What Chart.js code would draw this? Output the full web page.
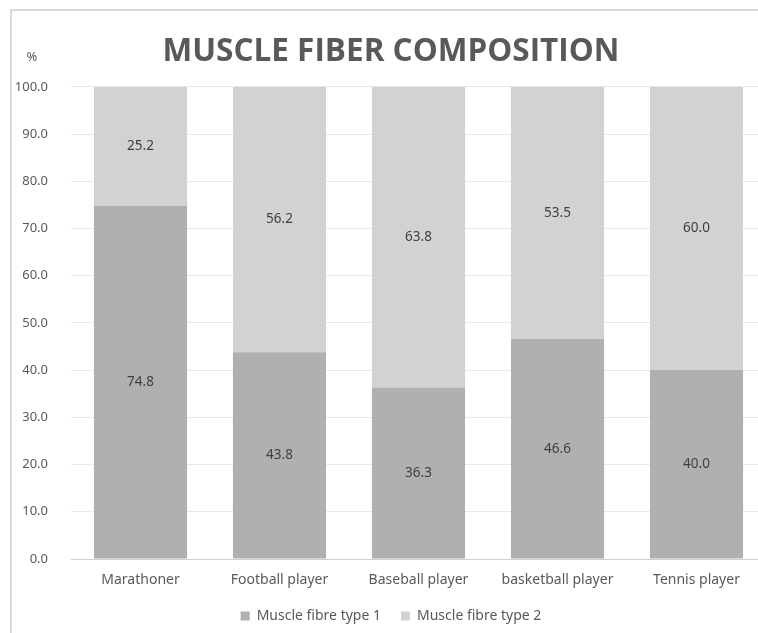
<!DOCTYPE html>
<html>
<head>
<meta charset="utf-8">
<script src="https://cdn.jsdelivr.net/npm/chart.js@4/dist/chart.umd.min.js"></script>
<style>
  html, body { margin: 0; padding: 0; background: #ffffff; overflow: hidden; width: 758px; height: 633px; }
  #chart { position: absolute; left: 0; top: 0; }
</style>
</head>
<body>
<canvas id="chart" width="782" height="633"></canvas>
<script>
const categories = ['Marathoner', 'Football player', 'Baseball player', 'basketball player', 'Tennis player'];
const seriesNames = ['Muscle fibre type 1', 'Muscle fibre type 2'];
const fibreType1 = [74.8, 43.8, 36.3, 46.6, 40.0];
const fibreType2 = [25.2, 56.2, 63.8, 53.5, 60.0];
const yTicks = [0, 10, 20, 30, 40, 50, 60, 70, 80, 90, 100];
const chartTitle = 'MUSCLE FIBER COMPOSITION';
const unitLabel = '%';

const FONT = "'Noto Sans', 'Open Sans', sans-serif";
const TEXT = '#595959';

// Light frame along the top and left edges of the chart
const chartFrame = {
  id: 'chartFrame',
  beforeDraw(chart) {
    const ctx = chart.ctx;
    ctx.save();
    ctx.strokeStyle = '#d9d9d9';
    ctx.lineWidth = 2;
    ctx.beginPath();
    ctx.moveTo(11, chart.height + 5);
    ctx.lineTo(11, 10);
    ctx.lineTo(chart.width + 5, 10);
    ctx.stroke();
    ctx.restore();
  }
};

// Values written in the middle of each stacked segment
const segmentLabels = {
  id: 'segmentLabels',
  afterDraw(chart) {
    const ctx = chart.ctx;
    ctx.save();
    ctx.font = `13.5px ${FONT}`;
    ctx.fillStyle = '#404040';
    ctx.textAlign = 'center';
    ctx.textBaseline = 'middle';
    chart.data.datasets.forEach((ds, di) => {
      const meta = chart.getDatasetMeta(di);
      meta.data.forEach((bar, i) => {
        const top = Math.max(bar.y, chart.chartArea.top);
        const y = (top + bar.base) / 2;
        ctx.fillText(ds.data[i].toFixed(1), bar.x, y);
      });
    });
    ctx.restore();
  }
};

// Unit caption above the value axis
const unitCaption = {
  id: 'unitCaption',
  afterDraw(chart) {
    const ctx = chart.ctx;
    ctx.save();
    ctx.font = `13px ${FONT}`;
    ctx.fillStyle = TEXT;
    ctx.textAlign = 'center';
    ctx.textBaseline = 'middle';
    ctx.fillText(unitLabel, 32, chart.chartArea.top - 30);
    ctx.restore();
  }
};

new Chart(document.getElementById('chart'), {
  type: 'bar',
  data: {
    labels: categories,
    datasets: [
      { label: seriesNames[0], data: fibreType1, backgroundColor: '#b0b0b0' },
      { label: seriesNames[1], data: fibreType2, backgroundColor: '#d2d2d2' }
    ]
  },
  options: {
    responsive: false,
    animation: false,
    devicePixelRatio: 1,
    categoryPercentage: 1,
    barPercentage: 0.67,
    layout: { padding: { left: 16, right: 16, top: 0, bottom: 0 } },
    plugins: {
      title: {
        display: true,
        text: chartTitle,
        color: TEXT,
        font: { family: "'Open Sans', sans-serif", size: 31.5, weight: 'bold', lineHeight: 1.2 },
        padding: { top: 33, bottom: 16 }
      },
      legend: {
        position: 'bottom',
        labels: {
          color: TEXT,
          font: { family: FONT, size: 14 },
          boxWidth: 9,
          boxHeight: 9,
          padding: 20
        }
      },
      tooltip: { enabled: false }
    },
    scales: {
      x: {
        stacked: true,
        grid: { display: false, drawTicks: false },
        border: { display: false },
        afterFit(scale) { scale.height = 30; },
        ticks: { color: TEXT, font: { family: FONT, size: 14 }, padding: 13, maxRotation: 0 }
      },
      y: {
        stacked: true,
        min: 0,
        max: 100,
        z: 1,
        afterBuildTicks(scale) { scale.ticks = yTicks.map(v => ({ value: v })); },
        afterFit(scale) { scale.width = 55; },
        grid: {
          drawTicks: false,
          color: ctx => ctx.tick && ctx.tick.value === 0 ? '#d0d0d0' : 'rgba(0,0,0,0.09)',
          lineWidth: 1
        },
        border: { display: false },
        ticks: {
          color: TEXT,
          font: { family: FONT, size: 13 },
          padding: 23,
          callback: v => Number(v).toFixed(1)
        }
      }
    }
  },
  plugins: [chartFrame, segmentLabels, unitCaption]
});
</script>
</body>
</html>
